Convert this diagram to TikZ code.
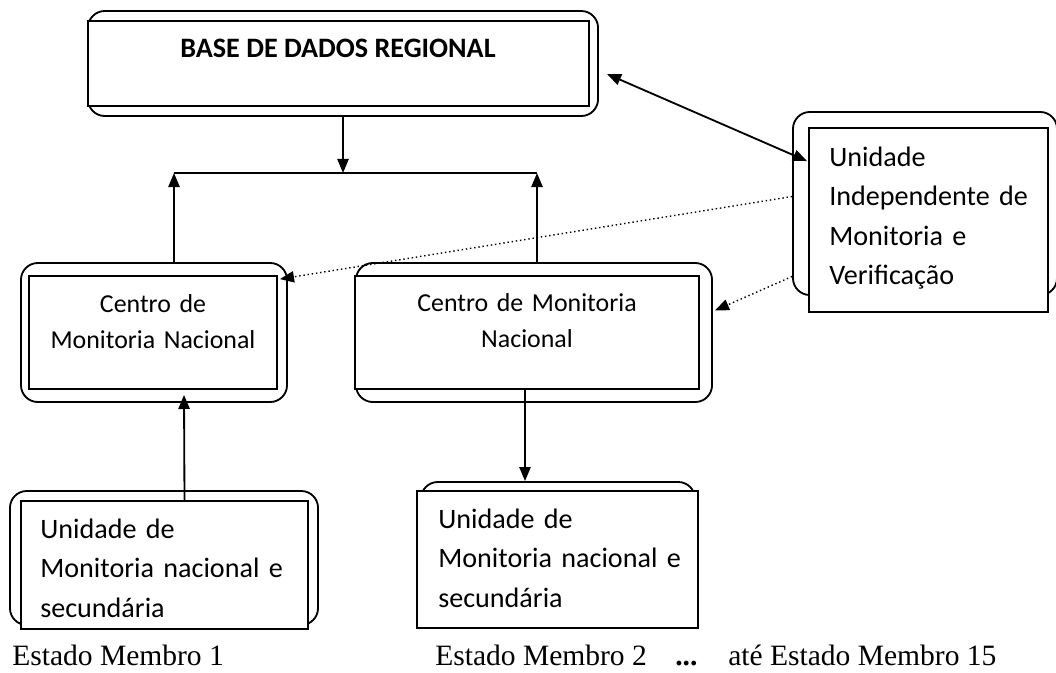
\documentclass[tikz,border=0pt]{standalone}
\usepackage{fontspec}
\setmainfont{Carlito}
\newfontfamily\garfont{Liberation Serif}
\usetikzlibrary{arrows.meta}

\begin{document}
\begin{tikzpicture}[x=0.025cm,y=-0.025cm,
  outerbox/.style 2 args={draw,line width=1.3pt,rounded corners=12pt,minimum width=#1cm,minimum height=#2cm,inner sep=0pt},
  innerbox/.style 2 args={draw,fill=white,line width=1.3pt,minimum width=#1cm,minimum height=#2cm,inner sep=0pt},
  btxt/.style={font=\fontsize{20}{28.1}\selectfont\bfseries,inner sep=0pt,anchor=base},
  ctxt/.style={font=\fontsize{18.4}{26}\selectfont,inner sep=0pt,text width=8cm,align=center,anchor=base},
  ltxt/.style={font=\fontsize{20}{28.1}\selectfont,inner sep=0pt,text width=8cm,align=left,anchor=base west},
  lbl/.style={font=\garfont\fontsize{21}{25}\selectfont,inner sep=0pt,anchor=base west},
  arr/.style={-{Triangle[length=10pt,width=8pt]},line width=1.3pt},
  twoway/.style={{Triangle[length=10pt,width=8pt]}-{Triangle[length=10pt,width=8pt]},line width=1.3pt},
  dots/.style={-{Triangle[length=10pt,width=8pt]},dotted,line width=1pt}]
\useasboundingbox (0,0) rectangle (1056,672);

% base de dados
\node[outerbox={12.75}{2.625}] (base) at (343,63.5) {};
\node[innerbox={12.525}{2.125}] (baseIn) at (338.5,63.5) {};
\node[btxt] (baseTxt) at (338,57) {BASE DE DADOS REGIONAL};

% centros nacionais
\node[outerbox={6.65}{3.475}] (cmn1) at (154,332.5) {};
\node[innerbox={6.2}{2.825}] (cmn1In) at (153,332.5) {};
\node[ctxt] (cmn1Txt) at (153,312) {Centro de\\Monitoria Nacional};

\node[outerbox={8.9}{3.475}] (cmn2) at (534,332.5) {};
\node[innerbox={8.6}{2.825}] (cmn2In) at (527,332.5) {};
\node[ctxt] (cmn2Txt) at (527,311) {Centro de Monitoria\\Nacional};

% unidade independente
\node[outerbox={6.6}{4.575}] (ind) at (925,203.5) {};
\node[innerbox={5.975}{4.6}] (indIn) at (928.5,220) {};
\node[ltxt] (indTxt) at (829,166) {Unidade\\Independente de\\Monitoria e\\Verificação};

% unidades nacionais
\node[outerbox={7.7}{3.35}] (unm1) at (164,558) {};
\node[innerbox={7.175}{3.2}] (unm1In) at (164.5,565) {};
\node[ltxt] (unm1Txt) at (40,538) {Unidade de\\Monitoria nacional e\\secundária};

\node[outerbox={6.85}{3.2}] (unm2) at (558,546) {};
\node[innerbox={7.025}{3.425}] (unm2In) at (557.5,559.5) {};
\node[ltxt] (unm2Txt) at (438,528) {Unidade de\\Monitoria nacional e\\secundária};

\node[lbl] (em1) at (12,665) {Estado Membro 1};
\node[lbl] (em2) at (435,665) {Estado Membro 2};
\node[lbl] (etc) at (675,665) {\textbf{...}};
\node[lbl] (em15) at (728,665) {até Estado Membro 15};

\coordinate (junc) at (343,173);
\coordinate (jl) at (174,173);
\coordinate (jr) at (537,173);

\draw[arr] (base.south) -- (junc);
\draw[line width=1.3pt] (jl) -- (jr);
\draw[arr] (cmn1.north -| jl) -- (jl);
\draw[arr] (cmn2.north -| jr) -- (jr);
\draw[twoway] ([shift={(8,10.5)}]base.east) -- ([shift={(-1,34)}]indIn.north west);
\draw[dots] ([shift={(0,-7)}]ind.west) -- ([shift={(2,4)}]cmn1In.north east);
\draw[dots] ([shift={(0,73)}]ind.west) -- ([shift={(2,-22)}]cmn2.east);
\draw[arr] ([shift={(-2,0)}]cmn2In.south) -- ([shift={(-33,0)}]unm2.north);
\draw[arr] ([shift={(20,0)}]unm1In.north) -- ([shift={(30,-8)}]cmn1.south);
\end{tikzpicture}
\end{document}
